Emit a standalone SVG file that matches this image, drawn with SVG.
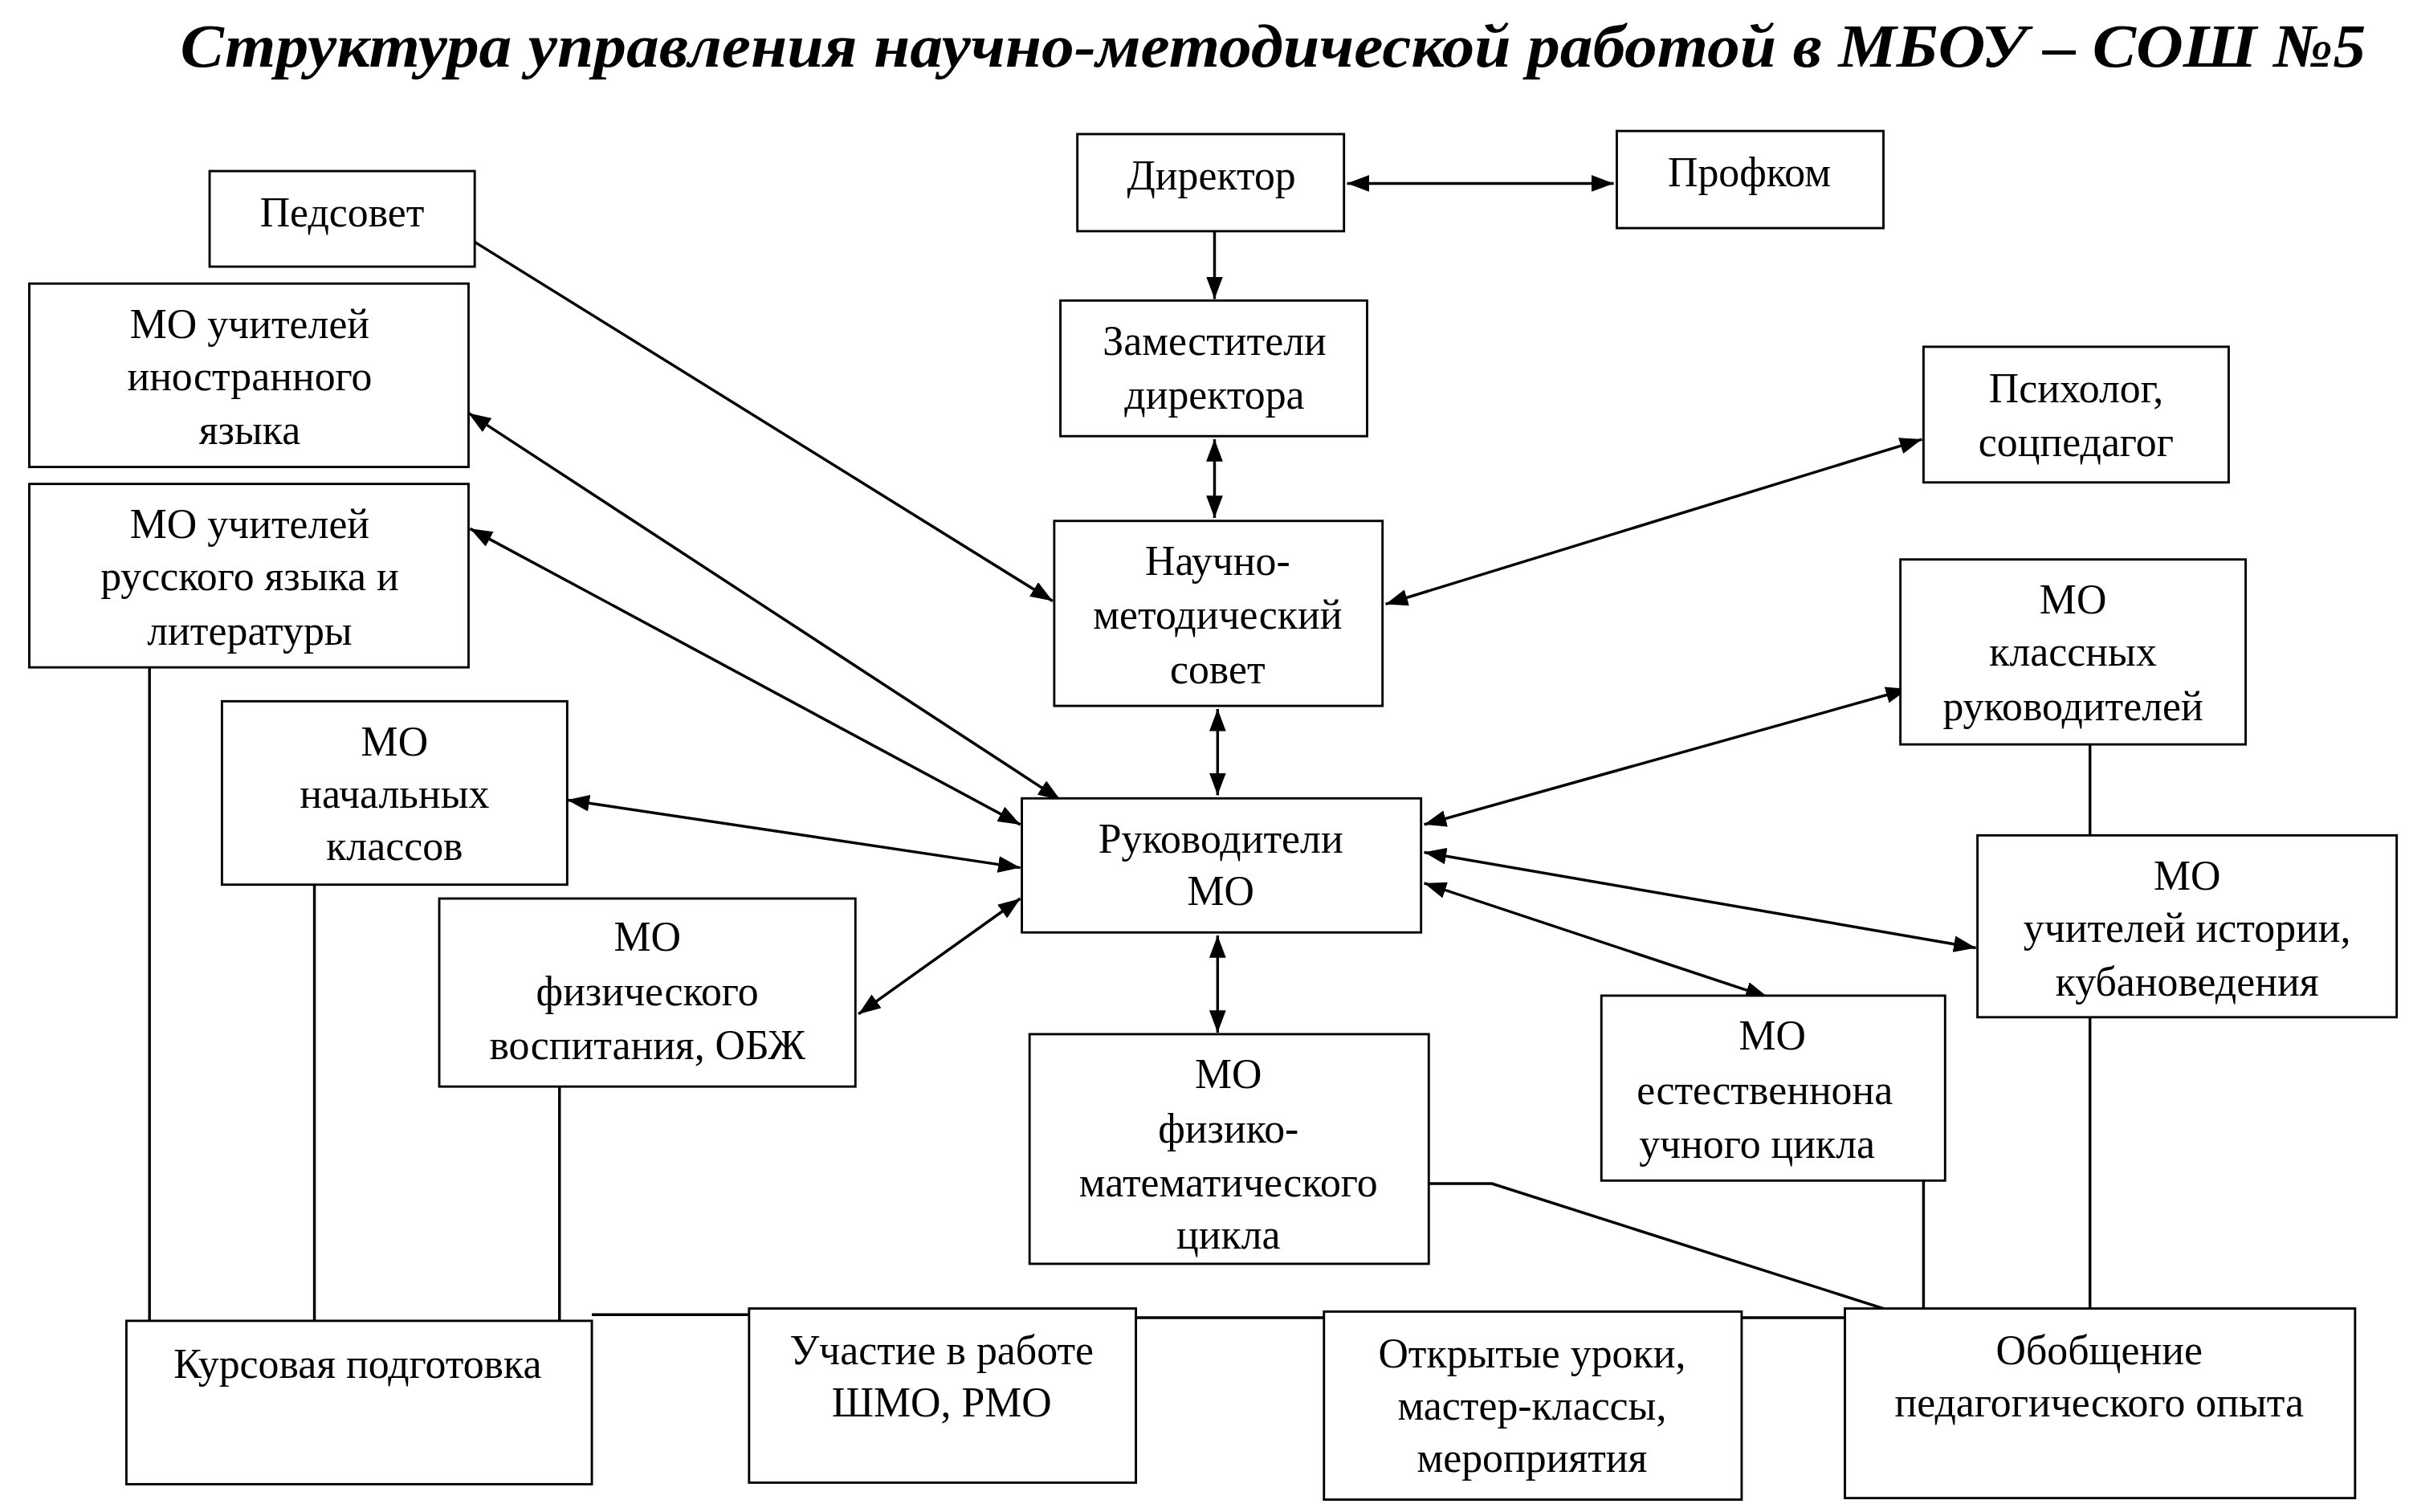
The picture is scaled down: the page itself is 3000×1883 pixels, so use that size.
<svg xmlns="http://www.w3.org/2000/svg" width="3000" height="1883" viewBox="0 0 3000 1883">
<style>
.b{fill:#fff;stroke:#000;stroke-width:1.5}
.t{font-family:"Liberation Serif","Times New Roman",serif;font-size:27px;text-anchor:middle;dominant-baseline:central;fill:#000}
.l{fill:none;stroke:#000;stroke-width:1.8}
.a{marker-end:url(#ah)}
.d{marker-start:url(#as);marker-end:url(#ah)}
</style>
<defs>
<marker id="ah" markerWidth="8" markerHeight="6" refX="8" refY="3" orient="auto"><path d="M0,0L8,3L0,6z" fill="#000"/></marker>
<marker id="as" markerWidth="8" markerHeight="6" refX="0" refY="3" orient="auto"><path d="M8,0L0,3L8,6z" fill="#000"/></marker>
</defs>
<rect width="3000" height="1883" fill="#fff"/>
<g transform="scale(1.9194)">
<text x="826" y="30" style="font-family:'Liberation Serif',serif;font-size:40px;font-weight:bold;font-style:italic;text-anchor:middle;dominant-baseline:central" textLength="1418" lengthAdjust="spacingAndGlyphs">Структура управления научно-методической работой в МБОУ – СОШ №5</text>
<g id="connectors">
<line class="l d" x1="874" y1="119" x2="1047" y2="119"/>
<line class="l a" x1="788" y1="150" x2="788" y2="194"/>
<line class="l d" x1="788" y1="285" x2="788" y2="336"/>
<line class="l a" x1="308" y1="157" x2="683" y2="390"/>
<line class="l d" x1="1247" y1="285" x2="899" y2="392"/>
<line class="l d" x1="790" y1="460" x2="790" y2="516"/>
<line class="l d" x1="304" y1="268" x2="688" y2="519"/>
<line class="l d" x1="305" y1="343" x2="662" y2="535"/>
<line class="l d" x1="368" y1="519" x2="662" y2="563"/>
<line class="l d" x1="557" y1="658" x2="662" y2="583"/>
<line class="l d" x1="1238" y1="447" x2="924" y2="535"/>
<line class="l d" x1="1282" y1="615" x2="924" y2="553"/>
<line class="l d" x1="1147" y1="647" x2="924" y2="573"/>
<line class="l d" x1="790" y1="607" x2="790" y2="670"/>
<polyline class="l" points="97,433 97,857"/>
<polyline class="l" points="204,574 204,857"/>
<polyline class="l" points="363,705 363,857"/>
<polyline class="l" points="1356,483 1356,542"/>
<polyline class="l" points="1356,660 1356,849"/>
<polyline class="l" points="1248,766 1248,849"/>
<polyline class="l" points="927,768 968,768 1222,849"/>
<polyline class="l" points="384,853 486,853"/>
<polyline class="l" points="737,855 859,855"/>
<polyline class="l" points="1130,855 1197,855"/>
</g>
<g id="director"><rect class="b" x="699" y="87" width="173" height="63"/><text class="t" x="786" y="114">Директор</text></g>
<g id="profkom"><rect class="b" x="1049" y="85" width="173" height="63"/><text class="t" x="1135" y="112">Профком</text></g>
<g id="pedsovet"><rect class="b" x="136" y="111" width="172" height="62"/><text class="t" x="222" y="138">Педсовет</text></g>
<g id="zam"><rect class="b" x="688" y="195" width="199" height="88"/><text class="t" x="788" y="221">Заместители</text><text class="t" x="788" y="256">директора</text></g>
<g id="psy"><rect class="b" x="1248" y="225" width="198" height="88"/><text class="t" x="1347" y="252">Психолог,</text><text class="t" x="1347" y="287">соцпедагог</text></g>
<g id="moin"><rect class="b" x="19" y="184" width="285" height="119"/><text class="t" x="162" y="210">МО учителей</text><text class="t" x="162" y="244">иностранного</text><text class="t" x="162" y="279">языка</text></g>
<g id="morus"><rect class="b" x="19" y="314" width="285" height="119"/><text class="t" x="162" y="340">МО учителей</text><text class="t" x="162" y="374">русского языка и</text><text class="t" x="162" y="409">литературы</text></g>
<g id="nms"><rect class="b" x="684" y="338" width="213" height="120"/><text class="t" x="790" y="364">Научно-</text><text class="t" x="790" y="399">методический</text><text class="t" x="790" y="434">совет</text></g>
<g id="mokl"><rect class="b" x="1233" y="363" width="224" height="120"/><text class="t" x="1345" y="389">МО</text><text class="t" x="1345" y="423">классных</text><text class="t" x="1345" y="458">руководителей</text></g>
<g id="monach"><rect class="b" x="144" y="455" width="224" height="119"/><text class="t" x="256" y="481">МО</text><text class="t" x="256" y="515">начальных</text><text class="t" x="256" y="549">классов</text></g>
<g id="rukmo"><rect class="b" x="663" y="518" width="259" height="87"/><text class="t" x="792" y="544">Руководители</text><text class="t" x="792" y="578">МО</text></g>
<g id="moist"><rect class="b" x="1283" y="542" width="272" height="118"/><text class="t" x="1419" y="568">МО</text><text class="t" x="1419" y="602">учителей истории,</text><text class="t" x="1419" y="637">кубановедения</text></g>
<g id="mofiz"><rect class="b" x="285" y="583" width="270" height="122"/><text class="t" x="420" y="608">МО</text><text class="t" x="420" y="643">физического</text><text class="t" x="420" y="678">воспитания, ОБЖ</text></g>
<g id="mofm"><rect class="b" x="668" y="671" width="259" height="149"/><text class="t" x="797" y="697">МО</text><text class="t" x="797" y="732">физико-</text><text class="t" x="797" y="767">математического</text><text class="t" x="797" y="801">цикла</text></g>
<g id="moest"><rect class="b" x="1039" y="646" width="223" height="120"/><text class="t" x="1150" y="672">МО</text><text class="t" x="1145" y="707">естественнона</text><text class="t" x="1140" y="742">учного цикла</text></g>
<g id="kurs"><rect class="b" x="82" y="857" width="302" height="106"/><text class="t" x="232" y="885">Курсовая подготовка</text></g>
<g id="shmo"><rect class="b" x="486" y="849" width="251" height="113"/><text class="t" x="611" y="876">Участие в работе</text><text class="t" x="611" y="910">ШМО, РМО</text></g>
<g id="open"><rect class="b" x="859" y="851" width="271" height="122"/><text class="t" x="994" y="878">Открытые уроки,</text><text class="t" x="994" y="912">мастер-классы,</text><text class="t" x="994" y="946">мероприятия</text></g>
<g id="obob"><rect class="b" x="1197" y="849" width="331" height="123"/><text class="t" x="1362" y="876">Обобщение</text><text class="t" x="1362" y="910">педагогического опыта</text></g>
</g>
</svg>
